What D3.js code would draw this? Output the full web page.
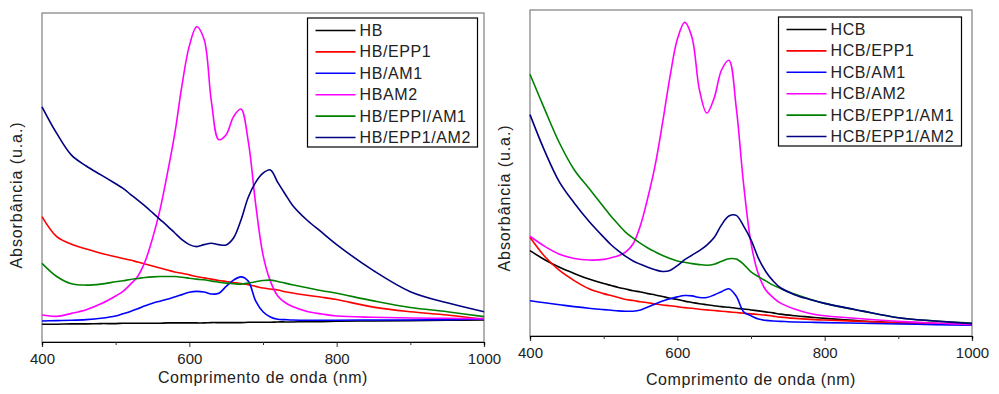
<!DOCTYPE html>
<html>
<head>
<meta charset="utf-8">
<script src="https://cdn.jsdelivr.net/npm/d3@7"></script>
<style>
  body { margin: 0; background: #fff; }
  svg { display: block; font-family: "Liberation Sans", Arial, sans-serif; }
</style>
</head>
<body>
<div id="chart"></div>
<script>
// wavelengths (nm), shared by all series
const wl = [400,420,440,460,480,500,510,520,530,540,550,560,570,580,590,600,610,620,630,640,650,660,670,680,690,700,710,720,730,740,760,780,800,850,900,950,1000];

// left panel (absorbance, arbitrary units)
const hb        = [5.4,5.4,5.5,5.5,5.6,5.6,5.7,5.7,5.7,5.7,5.7,5.7,5.8,5.8,5.8,5.8,5.8,5.8,5.9,5.9,5.9,5.9,5.9,6.0,6.0,6.0,6.0,6.1,6.1,6.1,6.2,6.2,6.3,6.4,6.5,6.6,6.7];
const hbEpp1    = [38.1,32,29.7,28.3,27,25.9,25.4,24.9,24.3,23.7,23.1,22.5,21.9,21.3,20.9,20.4,19.9,19.5,19.1,18.7,18.4,18.1,17.8,17.4,16.9,16.4,16.1,15.8,15.3,14.9,14.2,13.6,12.9,10.6,9.2,8.2,6.9];
const hbAm1     = [6.4,6.5,6.6,6.8,7.2,7.9,8.6,9.3,10.1,11.0,11.8,12.4,13.0,13.7,14.4,15.1,15.4,15.2,14.6,14.8,16.9,18.8,19.8,18.5,12.5,9.2,7.6,6.9,6.8,6.7,6.6,6.6,6.6,6.7,6.7,6.8,7.0];
const hbAm2     = [8.2,7.8,8.7,9.8,11.6,14.0,15.4,17.5,20.0,24.5,31.5,40,51,63,78,90,95.8,92,73,61.5,63,68.5,70.8,61,42,26.5,18.5,14,12,10.8,9.3,8.5,7.9,7.5,7.3,7.2,7.1];
const hbEppiAm1 = [23.9,19.9,17.7,17.3,17.6,18.3,18.6,19.0,19.3,19.6,19.8,19.9,19.9,19.9,19.7,19.4,19.1,18.9,18.5,18.2,17.9,17.7,17.6,17.9,18.3,18.7,18.8,18.4,17.9,17.4,16.5,15.6,14.8,12.5,10.5,9.2,7.7];
const hbEpp1Am2 = [71.5,63.4,56.8,53.5,50.8,48.1,46.7,44.9,43.1,41.3,39.3,37.3,35.3,33.2,31.1,29.6,29.0,29.6,30.0,29.6,29.5,31.6,37.0,44.0,48.5,51.3,52.3,48.5,45.0,41.6,37.0,33.3,29.6,21.7,15.3,11.9,9.2];

// right panel
const hcb        = [26.2,23.4,21.1,19.2,17.5,16.1,15.5,14.9,14.4,13.9,13.5,13.0,12.6,12.1,11.6,11.2,10.7,10.3,9.9,9.6,9.3,9.0,8.8,8.5,8.3,8.0,7.7,7.4,7.1,6.7,6.2,5.8,5.4,4.6,4.1,3.8,3.5];
const hcbEpp1    = [30.3,24.4,20.1,17.0,14.5,13.0,12.4,11.8,11.2,10.9,10.5,10.2,9.8,9.5,9.3,9.0,8.7,8.5,8.2,8.0,7.8,7.6,7.4,7.2,7.0,6.8,6.6,6.4,6.1,5.8,5.4,5.1,4.9,4.5,4.0,3.8,3.5];
const hcbAm1     = [10.8,10.2,9.6,9.0,8.5,8.1,7.9,7.7,7.6,7.6,8.0,8.9,9.8,10.7,11.4,12.0,12.4,12.3,11.8,11.8,12.6,13.6,14.5,12.2,7.4,6.2,5.2,4.8,4.6,4.5,4.3,4.2,4.1,3.9,3.7,3.5,3.3];
const hcbAm2     = [30.6,27.5,25.1,23.8,23.3,23.5,24.0,24.6,25.8,28.3,34,42.5,52.5,65.5,79.5,91,96.2,91.5,75.5,68.4,73,81.6,84.6,70,46.5,28.5,19,14.1,11.8,10.1,8.2,6.9,6.2,5.3,4.5,4.0,3.5];
const hcbEpp1Am1 = [80.3,69.5,59.2,51.0,45.3,39.6,36.7,34.2,31.8,30.0,28.4,27.0,25.8,24.7,23.8,23.0,22.6,22.2,21.9,21.7,22.0,22.9,23.7,23.6,22.0,19.7,18.2,16.9,15.6,14.6,12.8,11.3,10.0,7.7,5.6,4.6,4.0];
const hcbEpp1Am2 = [67.9,56.7,47.2,40.8,35.2,30.3,28.0,26.1,24.4,23.0,22.0,21.1,20.3,19.8,20.1,21.6,23.4,24.8,26.2,27.9,30.2,34.1,36.8,37.0,33.7,29.5,23.9,19.8,16.9,14.8,12.6,11.2,10.0,7.7,5.6,4.6,3.8];

const colors = ["#000000", "#ff0000", "#0000ff", "#ff00ff", "#008000", "#000080"];
const leftNames  = ["HB", "HB/EPP1", "HB/AM1", "HBAM2", "HB/EPPI/AM1", "HB/EPP1/AM2"];
const rightNames = ["HCB", "HCB/EPP1", "HCB/AM1", "HCB/AM2", "HCB/EPP1/AM1", "HCB/EPP1/AM2"];
const majorTicks = [400, 600, 800, 1000];
const minorTicks = [500, 700, 900];

const svg = d3.select("#chart").append("svg")
  .attr("width", 999)
  .attr("height", 394);

function drawPanel(p) {
  const width = p.x1 - p.x0, height = p.y1 - p.y0;
  const g = svg.append("g").attr("transform", "translate(" + p.x0 + "," + p.y0 + ")");

  const x = d3.scaleLinear().domain([400, 1000]).range([0, width]);
  const y = d3.scaleLinear().domain([0, 100]).range([height, 0]);

  // frame
  g.append("rect")
    .attr("width", width).attr("height", height)
    .attr("fill", "none").attr("stroke", "#7f7f7f").attr("stroke-width", 1.2);

  const line = d3.line()
    .x((d, i) => x(wl[i]))
    .y(d => y(d))
    .curve(d3.curveCatmullRom);

  p.series.forEach((s, i) => {
    g.append("path")
      .attr("d", line(s))
      .attr("fill", "none")
      .attr("stroke", colors[i])
      .attr("stroke-width", 1.6);
  });

  // bottom axis
  const ax = g.append("g").attr("transform", "translate(0," + height + ")")
    .call(d3.axisBottom(x).tickValues(majorTicks).tickSize(5).tickPadding(6).tickFormat(d3.format("d")));
  ax.append("g").call(d3.axisBottom(x).tickValues(minorTicks).tickSize(3).tickFormat(""));
  ax.selectAll(".domain").attr("stroke", "#000").attr("stroke-width", 1.2);
  ax.selectAll("text").attr("font-size", 15).attr("fill", "#222")
    .attr("font-family", "Liberation Sans, Arial, sans-serif");
  ax.selectAll(".tick line").attr("stroke", "#333");

  g.append("text")
    .attr("x", width / 2).attr("y", height + p.titleDy)
    .attr("text-anchor", "middle")
    .attr("font-size", 16).attr("letter-spacing", 0.6).attr("fill", "#222")
    .text("Comprimento de onda (nm)");

  g.append("text")
    .attr("transform", "translate(" + p.ylabX + "," + p.ylabY + ") rotate(-90)")
    .attr("text-anchor", "middle")
    .attr("font-size", 16).attr("letter-spacing", 0.9).attr("fill", "#222")
    .text("Absorbância (u.a.)");

  // legend
  const lg = svg.append("g").attr("transform", "translate(" + p.lx + "," + p.ly + ")");
  lg.append("rect")
    .attr("width", p.lw).attr("height", 129)
    .attr("fill", "#fff").attr("stroke", "#000").attr("stroke-width", 1.2);
  p.names.forEach((n, i) => {
    const yy = 12.5 + i * 21.4;
    lg.append("line")
      .attr("x1", 8).attr("x2", 48).attr("y1", yy).attr("y2", yy)
      .attr("stroke", colors[i]).attr("stroke-width", 1.6);
    lg.append("text")
      .attr("x", 52).attr("y", yy + 5.5)
      .attr("font-size", 16).attr("letter-spacing", 0.6).attr("fill", "#222")
      .text(n);
  });
}

drawPanel({
  x0: 42, x1: 484, y0: 13, y1: 342,
  series: [hb, hbEpp1, hbAm1, hbAm2, hbEppiAm1, hbEpp1Am2],
  names: leftNames, titleDy: 41, ylabX: -20, ylabY: 182,
  lx: 307.5, ly: 18, lw: 170
});

drawPanel({
  x0: 530, x1: 972, y0: 10, y1: 336,
  series: [hcb, hcbEpp1, hcbAm1, hcbAm2, hcbEpp1Am1, hcbEpp1Am2],
  names: rightNames, titleDy: 49, ylabX: -20, ylabY: 188,
  lx: 778.5, ly: 17, lw: 183
});
</script>
</body>
</html>
